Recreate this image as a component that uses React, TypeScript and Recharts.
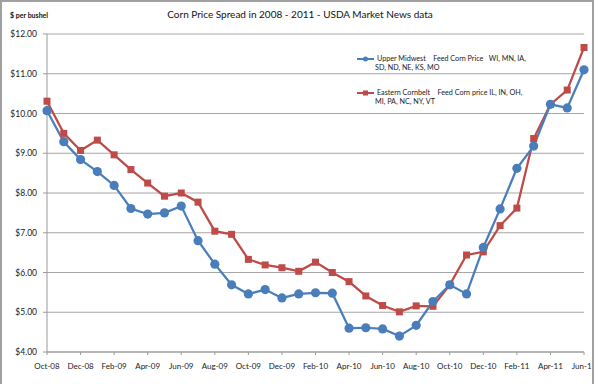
import React from 'react';
import { LineChart, Line, XAxis, YAxis, CartesianGrid } from 'recharts';

// Monthly series, Oct-08 .. Jun-11
const months = [
  'Oct-08', 'Nov-08', 'Dec-08',
  'Jan-09', 'Feb-09', 'Mar-09', 'Apr-09', 'May-09', 'Jun-09', 'Jul-09', 'Aug-09', 'Sep-09', 'Oct-09', 'Nov-09', 'Dec-09',
  'Jan-10', 'Feb-10', 'Mar-10', 'Apr-10', 'May-10', 'Jun-10', 'Jul-10', 'Aug-10', 'Sep-10', 'Oct-10', 'Nov-10', 'Dec-10',
  'Jan-11', 'Feb-11', 'Mar-11', 'Apr-11', 'May-11', 'Jun-11',
];

const upperMidwest = [
  10.07, 9.29, 8.84,
  8.54, 8.19, 7.61, 7.47, 7.5, 7.67, 6.8, 6.21, 5.69, 5.46, 5.57, 5.36,
  5.46, 5.49, 5.48, 4.6, 4.61, 4.58, 4.4, 4.67, 5.27, 5.69, 5.46, 6.63,
  7.6, 8.62, 9.18, 10.23, 10.14, 11.1,
];

const easternCornbelt = [
  10.31, 9.5, 9.07,
  9.33, 8.96, 8.59, 8.25, 7.92, 8.0, 7.77, 7.04, 6.96, 6.33, 6.19, 6.12,
  6.03, 6.26, 6.0, 5.77, 5.41, 5.17, 5.01, 5.16, 5.15, 5.69, 6.44, 6.52,
  7.18, 7.62, 9.37, 10.23, 10.59, 11.66,
];

const yTicks = [4, 5, 6, 7, 8, 9, 10, 11, 12];

const BLUE = '#4a7ebb';
const RED = '#be4b48';
const FONT = 'Lato, "Liberation Sans", sans-serif';

const data = months.map((m, i) => ({
  month: m,
  upper: upperMidwest[i],
  eastern: easternCornbelt[i],
}));

const Square = (props: any) => {
  const { cx, cy } = props;
  if (cx == null || cy == null) return null;
  return <rect x={cx - 3.5} y={cy - 3.5} width={7} height={7} fill={RED} />;
};

const Dot = (props: any) => {
  const { cx, cy } = props;
  if (cx == null || cy == null) return null;
  return <circle cx={cx} cy={cy} r={4.6} fill={BLUE} />;
};

export default function App() {
  return (
    <div style={{ position: 'absolute', left: 0, top: 0, width: 600, height: 384, background: '#fff', fontFamily: FONT, overflow: 'hidden' }}>
      <LineChart width={600} height={384} data={data} margin={{ top: 34, right: 16, left: 0, bottom: 0 }}>
        <CartesianGrid vertical={false} stroke="#a6a6a6" strokeWidth={1} />
        <XAxis
          dataKey="month"
          interval={1}
          height={32}
          tickSize={3}
          tickMargin={8}
          stroke="#9a9a9a"
          tick={{ fontSize: 8, fill: '#222', fontFamily: FONT }}
        />
        <YAxis
          domain={[4, 12]}
          ticks={yTicks}
          width={47}
          tickSize={4}
          tickMargin={6}
          stroke="#9a9a9a"
          tickFormatter={(v: number) => '$' + v.toFixed(2)}
          tick={{ fontSize: 8.5, fill: '#222', fontFamily: FONT }}
        />
        <Line
          type="linear"
          dataKey="eastern"
          stroke={RED}
          strokeWidth={2.25}
          dot={<Square />}
          isAnimationActive={false}
        />
        <Line
          type="linear"
          dataKey="upper"
          stroke={BLUE}
          strokeWidth={2.25}
          dot={<Dot />}
          isAnimationActive={false}
        />
      </LineChart>

      {/* title and unit */}
      <div style={{ position: 'absolute', left: 0, width: 600, top: 8, textAlign: 'center', fontSize: 10, color: '#111' }}>
        Corn Price Spread in 2008 - 2011 - USDA Market News data
      </div>
      <div style={{ position: 'absolute', left: 10, top: 11, fontSize: 7, fontWeight: 'bold', color: '#111' }}>
        $ per bushel
      </div>

      {/* legend */}
      <div style={{ position: 'absolute', left: 357, top: 54, fontSize: 7.2, color: '#222', lineHeight: '9px' }}>
        <div style={{ display: 'flex', alignItems: 'flex-start' }}>
          <svg width={18} height={10} style={{ flexShrink: 0 }}>
            <line x1={0} y1={5} x2={17} y2={5} stroke={BLUE} strokeWidth={2} />
            <circle cx={8.5} cy={5} r={2.5} fill={BLUE} />
          </svg>
          <div style={{ marginLeft: 2, width: 150 }}>
            Upper Midwest&nbsp;&nbsp;&nbsp; Feed Corn Price&nbsp;&nbsp; WI, MN, IA,
            <br />
            <span style={{ marginLeft: -2 }}>SD, ND, NE, KS, MO</span>
          </div>
        </div>
        <div style={{ display: 'flex', alignItems: 'flex-start', marginTop: 16 }}>
          <svg width={18} height={10} style={{ flexShrink: 0 }}>
            <line x1={0} y1={5} x2={17} y2={5} stroke={RED} strokeWidth={2} />
            <rect x={6} y={2.5} width={5} height={5} fill={RED} />
          </svg>
          <div style={{ marginLeft: 2, width: 150 }}>
            Eastern Cornbelt&nbsp;&nbsp;&nbsp; Feed Corn price IL, IN, OH,
            <br />
            <span style={{ marginLeft: -2 }}>MI, PA, NC, NY, VT</span>
          </div>
        </div>
      </div>

      {/* outer frame, right side cut off as in the original */}
      <div style={{ position: 'absolute', left: 592, top: 0, width: 8, height: 384, background: '#fff' }} />
      <div style={{ position: 'absolute', left: 0, top: 0, width: 590, height: 400, border: '2px solid #a0a0a0', borderBottom: 'none', pointerEvents: 'none' }} />
    </div>
  );
}
